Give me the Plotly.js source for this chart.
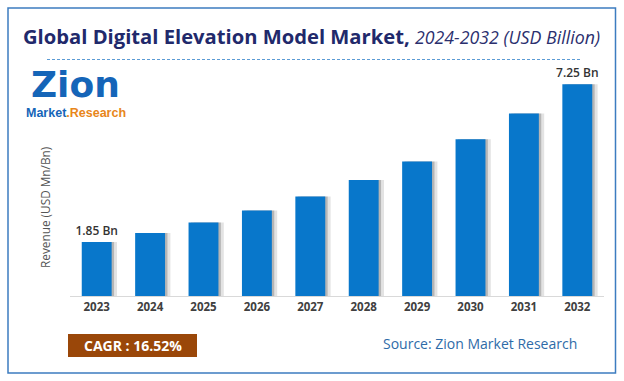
<!DOCTYPE html>
<html>
<head>
<meta charset="utf-8">
<script src="https://cdn.plot.ly/plotly-3.0.1.min.js"></script>
<style>
html,body{margin:0;padding:0;background:#fff;}
#chart{width:624px;height:381px;}
</style>
</head>
<body>
<div id="chart"></div>
<script>
// ---- data ----
const years = ["2023","2024","2025","2026","2027","2028","2029","2030","2031","2032"];
const revenue = [1.85, 2.16, 2.52, 2.93, 3.41, 3.97, 4.61, 5.37, 6.25, 7.25];
const valueLabels = ["1.85 Bn","","","","","","","","","7.25 Bn"];
const titleMain = "Global Digital Elevation Model Market,";
const titleSub = "2024-2032 (USD Billion)";
const yTitle = "Revenue (USD Mn/Bn)";
const cagrText = "CAGR : 16.52%";
const sourceText = "Source: Zion Market Research";
const logoTop = "Zion";
const logoLeft = "Market";
const logoRight = ".Research";

// ---- layout helpers (pixel -> paper) ----
const W = 624, H = 381;
const M = {l: 70, r: 20, t: 75, b: 85};
const PW = W - M.l - M.r, PH = H - M.t - M.b;
const px = x => (x - M.l) / PW;
const py = y => (H - M.b - y) / PH;

const FONT = "Open Sans, Noto Sans, sans-serif";

const shadowOuter = {
  type: "bar", x: years, y: revenue,
  marker: {color: "rgba(60,60,60,0.14)", line: {width: 0}},
  width: 0.56, offset: -0.18,
  hoverinfo: "skip", showlegend: false
};
const shadowInner = {
  type: "bar", x: years, y: revenue,
  marker: {color: "rgba(60,60,60,0.28)", line: {width: 0}},
  width: 0.56, offset: -0.235,
  hoverinfo: "skip", showlegend: false
};
const bars = {
  type: "bar", x: years, y: revenue,
  marker: {color: "#0877CB", line: {width: 0}},
  width: 0.56, offset: -0.28,
  text: valueLabels, textposition: "outside", cliponaxis: false,
  constraintext: "none",
  textfont: {family: FONT, size: 12, color: "#333333", weight: 600},
  showlegend: false
};

const layout = {
  width: W, height: H,
  margin: M,
  paper_bgcolor: "#ffffff", plot_bgcolor: "#ffffff",
  barmode: "overlay",
  showlegend: false,
  xaxis: {
    type: "category",
    showgrid: false, zeroline: false,
    showline: true, linecolor: "#D9D9D9", linewidth: 1.2,
    ticks: "", ticklen: 0,
    tickfont: {family: FONT, size: 11.5, color: "#404040", weight: "bold"},
    range: [-0.5, 9.5]
  },
  yaxis: {
    range: [0, 7.57],
    showgrid: false, zeroline: false, showline: false,
    showticklabels: false, ticks: ""
  },
  shapes: [
    {type: "rect", xref: "paper", yref: "paper",
     x0: px(8), x1: px(615.5), y0: py(373), y1: py(8),
     line: {color: "#3C7CC0", width: 1.5}, fillcolor: "rgba(0,0,0,0)", layer: "below"},
    {type: "line", xref: "paper", yref: "paper",
     x0: px(47), x1: px(582), y0: py(59.5), y1: py(59.5),
     line: {color: "#5B9BD5", width: 1, dash: "3px,2px"}},
    {type: "rect", xref: "paper", yref: "paper",
     x0: px(68), x1: px(197), y0: py(357), y1: py(334),
     line: {width: 0}, fillcolor: "#9A4709"}
  ],
  annotations: [
    {xref: "paper", yref: "paper", x: px(21), y: py(36), xanchor: "left", yanchor: "middle",
     showarrow: false,
     text: "<b>" + titleMain + "</b> <i><span style='font-size:17.8px;color:#2B2F6E'>" + titleSub + "</span></i>",
     font: {family: FONT, size: 20.2, color: "#21296B"}},
    {xref: "paper", yref: "paper", x: px(45), y: py(208), xanchor: "center", yanchor: "middle",
     showarrow: false, textangle: -90, text: yTitle,
     font: {family: FONT, size: 11.8, color: "#555555"}},
    {xref: "paper", yref: "paper", x: px(132.5), y: py(345.5), xanchor: "center", yanchor: "middle",
     showarrow: false, text: "<b>" + cagrText + "</b>",
     font: {family: FONT, size: 14, color: "#ffffff"}},
    {xref: "paper", yref: "paper", x: px(480), y: py(343), xanchor: "center", yanchor: "middle",
     showarrow: false, text: sourceText,
     font: {family: FONT, size: 14, color: "#2E6BA8"}},
    // logo (text approximation)
    {xref: "paper", yref: "paper", x: px(75), y: py(84), xanchor: "center", yanchor: "middle",
     showarrow: false, borderpad: 0,
     text: "<b>" + logoTop + "</b>",
     font: {family: "DejaVu Sans, sans-serif", size: 36, color: "#1565B8"}},
    {xref: "paper", yref: "paper", x: px(76), y: py(113), xanchor: "center", yanchor: "middle",
     showarrow: false, borderpad: 0,
     text: "<b>" + logoLeft + "<span style='color:#E8861A'>" + logoRight + "</span></b>",
     font: {family: "Liberation Sans, Arial, sans-serif", size: 12.5, color: "#1565B8"}}
  ]
};

Plotly.newPlot("chart", [shadowOuter, shadowInner, bars], layout, {displayModeBar: false, staticPlot: true});
</script>
</body>
</html>
